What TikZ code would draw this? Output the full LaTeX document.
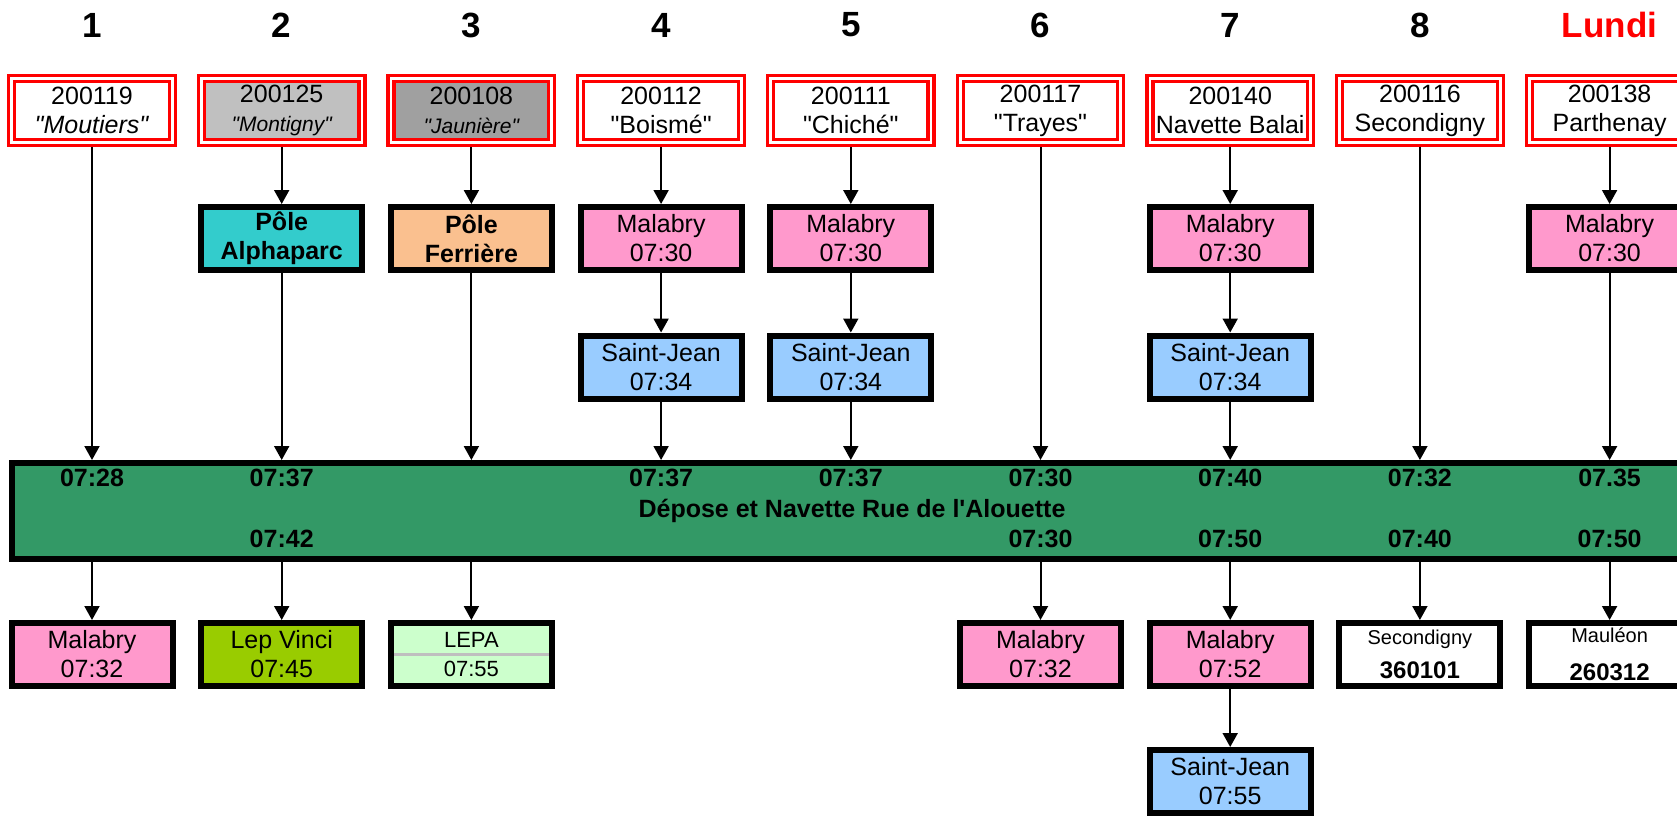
\documentclass[tikz,border=0pt]{standalone}
\usepackage{fontspec}
\setmainfont{Liberation Sans}[Ligatures=TeXOff]
\usetikzlibrary{arrows.meta}

\definecolor{depotgreen}{HTML}{339966}
\definecolor{stoppink}{HTML}{FF99CC}
\definecolor{stopblue}{HTML}{99CCFF}
\definecolor{poleteal}{HTML}{33CCCC}
\definecolor{polepeach}{HTML}{FAC08F}
\definecolor{lepgreen}{HTML}{99CC00}
\definecolor{lepapale}{HTML}{CCFFCC}
\definecolor{linegray}{HTML}{C0C0C0}
\definecolor{linedark}{HTML}{A0A0A0}

\begin{document}
\begin{tikzpicture}[x=0.5pt,y=-0.5pt,
  every node/.style={font=\fontsize{12.5}{14.5}\selectfont},
  linebox/.style={draw=red,line width=1.65pt,double=white,double distance=1.35pt,fill=white,
    minimum width=80.3pt,minimum height=31.9pt,inner sep=0pt,outer sep=2.3pt,align=center},
  stopbox/.style={draw,line width=3pt,minimum width=80.5pt,minimum height=31.5pt,inner sep=0pt,align=center},
  colnum/.style={font=\fontsize{17.5}{20}\selectfont\bfseries},
  bartime/.style={font=\fontsize{12.5}{14.5}\selectfont\bfseries},
  link/.style={line width=1pt,-{Triangle[length=7pt,width=7.5pt]}}]

\clip (0,0) rectangle (1677,815);

% Column numbers
\foreach \col in {1,...,8}{
	\node[colnum] (num\col) at ({92+189.7*(\col-1)},25) {\col};
}
\node[colnum,text=red] (day) at (1609.6,25) {Lundi};

% Lines
\node[linebox] (line1) at (92,110.5) {200119\\\textit{"Moutiers"}};
\node[linebox,fill=linegray] (line2) at (281.7,110.5) {200125\\{\fontsize{10.5}{14.5}\selectfont\itshape "Montigny"}};
\node[linebox,fill=linedark] (line3) at (471.4,110.5) {200108\\{\fontsize{10.5}{14.5}\selectfont\itshape "Jaunière"}};
\node[linebox] (line4) at (661.1,110.5) {200112\\"Boismé"};
\node[linebox] (line5) at (850.8,110.5) {200111\\"Chiché"};
\node[linebox] (line6) at (1040.5,110.5) {200117\\"Trayes"};
\node[linebox] (line7) at (1230.2,110.5) {200140\\Navette Balai};
\node[linebox] (line8) at (1419.9,110.5) {200116\\Secondigny};
\node[linebox] (line9) at (1609.6,110.5) {200138\\Parthenay};

% First stops
\node[stopbox,fill=poleteal,font=\fontsize{12.5}{14.5}\selectfont\bfseries] (pole2) at (281.7,238.5) {Pôle\\Alphaparc};
\node[stopbox,fill=polepeach,font=\fontsize{12.5}{14.5}\selectfont\bfseries] (pole3) at (471.4,238.5) {Pôle\\Ferrière};
\node[stopbox,fill=stoppink] (pick4) at (661.1,238.5) {Malabry\\07:30};
\node[stopbox,fill=stoppink] (pick5) at (850.8,238.5) {Malabry\\07:30};
\node[stopbox,fill=stoppink] (pick7) at (1230.2,238.5) {Malabry\\07:30};
\node[stopbox,fill=stoppink] (pick9) at (1609.6,238.5) {Malabry\\07:30};

\node[stopbox,fill=stopblue] (sj4) at (661.1,367) {Saint-Jean\\07:34};
\node[stopbox,fill=stopblue] (sj5) at (850.8,367) {Saint-Jean\\07:34};
\node[stopbox,fill=stopblue] (sj7) at (1230.2,367) {Saint-Jean\\07:34};

% Depot
\node[stopbox,fill=depotgreen,minimum width=840pt,minimum height=48pt,font=\fontsize{12.5}{14.5}\selectfont\bfseries] (depot) at (852,511) {Dépose et Navette Rue de l'Alouette};

\foreach \col/\hour in {1/07:28,2/07:37,4/07:37,5/07:37,6/07:30,7/07:40,8/07:32,9/07.35}{
	\node[bartime] (arr\col) at ({92+189.7*(\col-1)},478) {\hour};
}
\foreach \col/\hour in {2/07:42,6/07:30,7/07:50,8/07:40,9/07:50}{
	\node[bartime] (dep\col) at ({92+189.7*(\col-1)},539) {\hour};
}

% Drop-offs
\node[stopbox,fill=stoppink] (drop1) at (92,654.5) {Malabry\\07:32};
\node[stopbox,fill=lepgreen] (drop2) at (281.7,654.5) {Lep Vinci\\07:45};
\node[stopbox,fill=lepapale,font=\fontsize{11}{14.5}\selectfont] (drop3) at (471.4,654.5) {LEPA\\07:55};
\draw[black!25,line width=1.2pt] ([xshift=3pt]drop3.west) -- ([xshift=-3pt]drop3.east);
\node[stopbox,fill=stoppink] (drop6) at (1040.5,654.5) {Malabry\\07:32};
\node[stopbox,fill=stoppink] (drop7) at (1230.2,654.5) {Malabry\\07:52};
\node[stopbox,fill=white,font=\fontsize{10}{17}\selectfont] (drop8) at (1419.9,654.5) {Secondigny\\\textbf{\fontsize{12}{17}\selectfont 360101}};
\node[stopbox,fill=white,font=\fontsize{10}{19}\selectfont] (drop9) at (1609.6,654.5) {Mauléon\\\textbf{\fontsize{12}{19}\selectfont 260312}};

\node[stopbox,fill=stopblue] (final7) at (1230.2,781.5) {Saint-Jean\\07:55};

% Arrows
\draw[link] (line2.south) -- (pole2.north);
\draw[link] (line3.south) -- (pole3.north);
\foreach \col in {4,5,7,9} \draw[link] (line\col.south) -- (pick\col.north);
\foreach \col in {4,5,7} \draw[link] (pick\col.south) -- (sj\col.north);

\foreach \col in {1,6,8} \draw[link] (line\col.south) -- (line\col.south |- depot.north);
\foreach \col in {4,5,7} \draw[link] (sj\col.south) -- (sj\col.south |- depot.north);
\draw[link] (pole2.south) -- (pole2.south |- depot.north);
\draw[link] (pole3.south) -- (pole3.south |- depot.north);
\draw[link] (pick9.south) -- (pick9.south |- depot.north);

\foreach \col in {1,2,3,6,7,8,9} \draw[link] (drop\col.north |- depot.south) -- (drop\col.north);
\draw[link] (drop7.south) -- (final7.north);

\end{tikzpicture}
\end{document}
